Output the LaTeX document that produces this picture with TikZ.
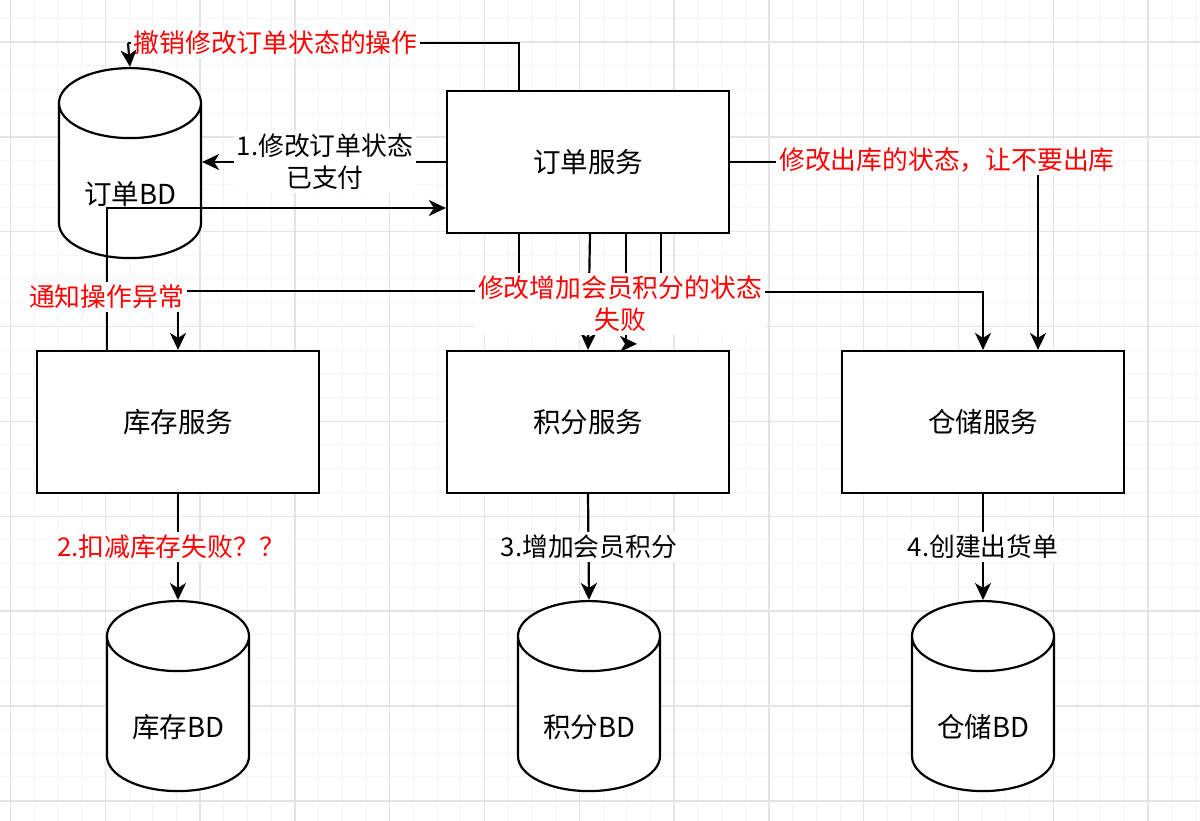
\documentclass[tikz,border=0pt]{standalone}
\usepackage{fontspec}
\setmainfont{Noto Sans CJK SC}
\usetikzlibrary{shapes.geometric,arrows.meta}
\newcommand\boxfont{\fontsize{27.5}{33}\selectfont}
\newcommand\lblfont{\fontsize{25.8}{32}\selectfont}
\definecolor{gridmajor}{HTML}{E4E4E4}
\definecolor{gridminor}{HTML}{F4F4F4}
\tikzset{
  svc/.style={draw, fill=white, line width=2.2pt, minimum width=282pt, minimum height=142pt, font=\boxfont},
  db/.style={cylinder, shape border rotate=90, aspect=10.5, draw, fill=white, line width=2.2pt, minimum width=142pt, minimum height=190pt, anchor=north},
  dbtext/.style={font=\boxfont, anchor=center, yshift=65pt},
  arr/.style={-{Stealth[length=17pt,width=16pt,inset=5pt]}, line width=2.2pt},
  blklbl/.style={fill=white, font=\lblfont, inner sep=3pt, align=center},
  redlbl/.style={blklbl, text=red}
}
\begin{document}
\begin{tikzpicture}[x=1pt,y=-1pt]
  \useasboundingbox (0,0) rectangle (1200,821);
  \fill[white] (0,0) rectangle (1200,821);
  % grid
  \foreach \gx in {10.5,34.2,...,1200} \draw[gridminor, line width=1pt] (\gx,0) -- (\gx,821);
  \foreach \gy in {18.3,42,...,821} \draw[gridminor, line width=1pt] (0,\gy) -- (1200,\gy);
  \foreach \gx in {10.5,105.3,...,1200} \draw[gridmajor, line width=1.4pt] (\gx,0) -- (\gx,821);
  \foreach \gy in {42,136.85,...,821} \draw[gridmajor, line width=1.4pt] (0,\gy) -- (1200,\gy);

  % services
  \node[svc] (order) at (588,162) {订单服务};
  \node[svc] (stock) at (178,422) {库存服务};
  \node[svc] (points) at (588,422) {积分服务};
  \node[svc] (depot) at (983,422) {仓储服务};

  % databases (placed by their top)
  \node[db, label={[dbtext]south:订单BD}] (orderdb) at (130,67) {};
  \node[db, label={[dbtext]south:库存BD}] (stockdb) at (178,600) {};
  \node[db, label={[dbtext]south:积分BD}] (pointsdb) at (589,600) {};
  \node[db, label={[dbtext]south:仓储BD}] (depotdb) at (983,600) {};

  % connectors
  \coordinate (undoturn) at (128,43);
  \coordinate (split) at (519,292);
  \draw[arr] (order.west) -- (orderdb.east |- order.west);
  \draw[arr] ([xshift=-71pt]stock.north) |- ([yshift=-46pt]order.west);
  \draw[line width=2.2pt] ([xshift=-69pt]order.north) |- (undoturn);
  \draw[arr] (order.east) -| ([xshift=55pt]depot.north);
  \draw[arr] ([xshift=-69pt]order.south) |- ([yshift=59pt]stock.north) -- (stock.north);
  \draw[arr] (split) -| (depot.north);
  \draw[arr] ([xshift=2pt]order.south) -- (points.north);
  \draw[arr] ([xshift=38pt]order.south) |- ([xshift=49pt,yshift=6pt]points.north);
  \draw[line width=2.2pt] ([xshift=73pt]order.south) -- ([xshift=73pt,yshift=-70pt]order.south);
  \draw[arr] (stock.south) -- (stockdb.north);
  \draw[arr] (points.south) -- (pointsdb.north);
  \draw[arr] (depot.south) -- (depotdb.north);

  % labels
  \node[blklbl] (paid) at (325,162) {1.修改订单状态\\已支付};
  \node[redlbl] (undo) at (275.5,43) {撤销修改订单状态的操作};
  \node[redlbl] (noship) at (947,160) {修改出库的状态，让不要出库};
  \node[redlbl] (notify) at (106.5,297) {通知操作异常};
  \node[redlbl] (pointsfail) at (620,304) {修改增加会员积分的状态\\失败};
  \node[redlbl] (stockfail) at (171,547) {2.扣减库存失败？？};
  \node[blklbl] (addpoints) at (589,547) {3.增加会员积分};
  \node[blklbl] (shipping) at (983,547) {4.创建出货单};

  % last piece of the undo connector, over its label
  \draw[arr] (undoturn) -- (orderdb.north);
\end{tikzpicture}
\end{document}
